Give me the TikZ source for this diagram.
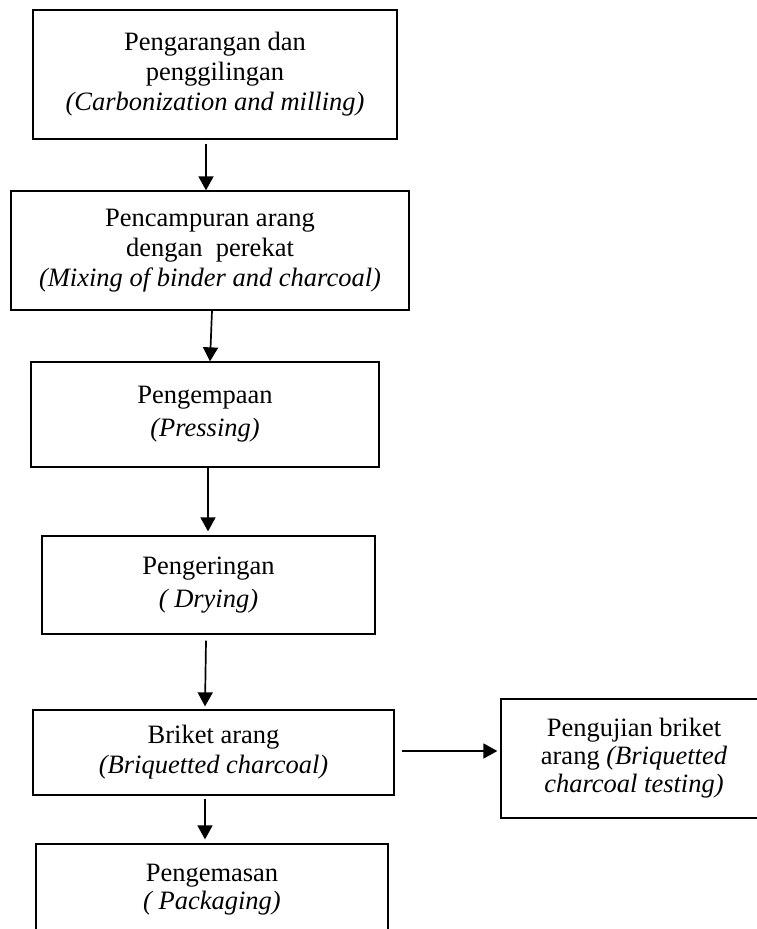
\documentclass[tikz,border=0pt]{standalone}
\usepackage{fontspec}
\setmainfont{Liberation Serif}
\usetikzlibrary{arrows.meta,calc}
\begin{document}
\begin{tikzpicture}[x=1pt,y=-1pt,
  box/.style={draw, line width=1.3pt, rectangle, inner sep=0pt, align=center,
    font=\fontsize{26.5}{30}\selectfont},
  wide/.style={font=\fontsize{26.5}{33}\selectfont},
  tight/.style={font=\fontsize{26.5}{28}\selectfont},
  arr/.style={line width=1.7pt, -{Triangle[length=14pt,width=15pt]}}]
\useasboundingbox (0,0) rectangle (757,929);
\clip (0,0) rectangle (757,929);
\node[box, minimum width=364pt, minimum height=129pt] (b1) at (215,74.5)
  {Pengarangan dan\\penggilingan\\\textit{(Carbonization and milling)}};
\node[box, minimum width=398pt, minimum height=119pt] (b2) at (210,250.5)
  {Pencampuran arang\\dengan~ perekat\\\textit{(Mixing of binder and charcoal)}};
\node[box, wide, minimum width=348pt, minimum height=105pt] (b3) at (205,414.5)
  {Pengempaan\\\textit{(Pressing)}};
\node[box, wide, minimum width=333pt, minimum height=98pt] (b4) at (208.5,585)
  {Pengeringan\\\textit{( Drying)}};
\node[box, minimum width=361pt, minimum height=85pt] (b5) at (213.5,752.5)
  {Briket arang\\\textit{(Briquetted charcoal)}};
\node[box, tight, minimum width=266pt, minimum height=119pt] (b6) at (634,758.5)
  {Pengujian briket\\arang \textit{(Briquetted}\\\textit{charcoal testing)}};
\node[box, tight, minimum width=352pt, minimum height=92pt] (b7) at (212,890)
  {Pengemasan\\\textit{( Packaging)}};
\draw[arr] ($(b1.south)+(-9,4)$) -- ($(b2.north)+(-4,0)$);
\draw[arr] ($(b2.south)+(2,0)$) -- ($(b3.north)+(5,0)$);
\draw[arr] ($(b3.south)+(3,0)$) -- ($(b4.north)+(-0.5,-4)$);
\draw[arr] ($(b4.south)+(-2.5,6)$) -- ($(b5.north)+(-8.5,-3)$);
\draw[arr] ($(b5.south)+(-8.5,3)$) -- ($(b7.north)+(-7,-4)$);
\draw[arr] ($(b5.east)+(7,-1.5)$) -- ($(b6.west)+(-3,-7.5)$);
\end{tikzpicture}
\end{document}
